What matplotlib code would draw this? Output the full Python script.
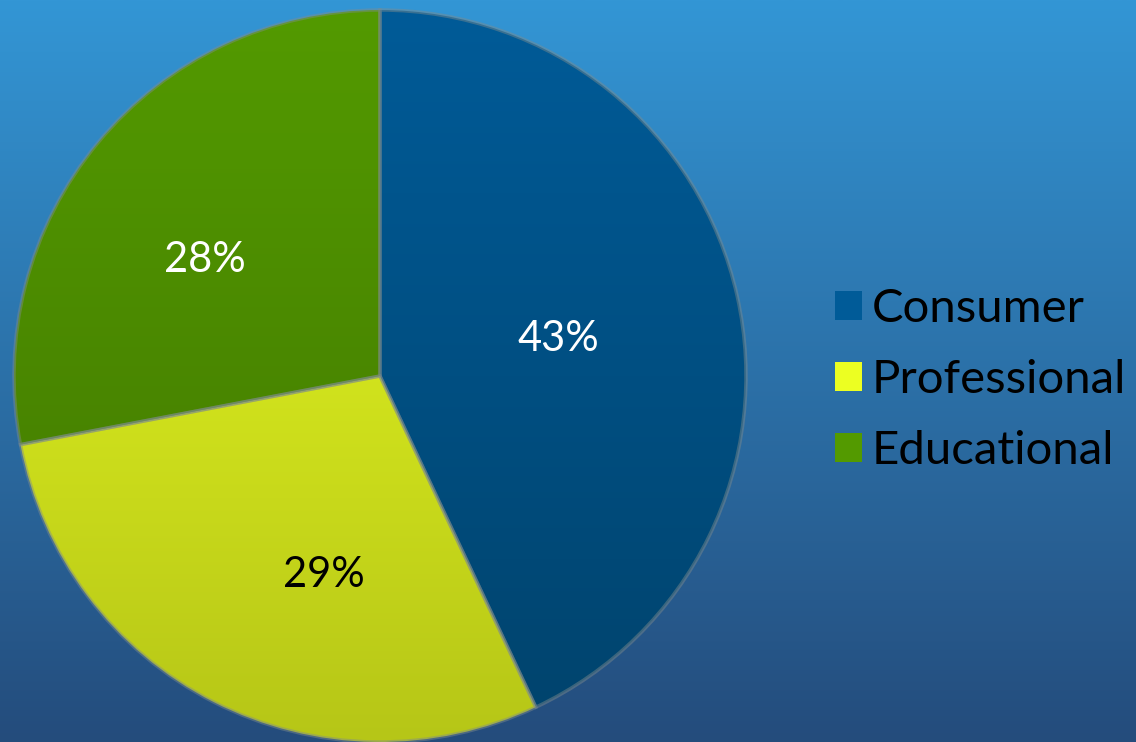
import numpy as np
import matplotlib
matplotlib.use("Agg")
import matplotlib.pyplot as plt
from matplotlib.colors import LinearSegmentedColormap
from matplotlib.patches import Patch

# datos del grafico
categorias = ["Consumer", "Professional", "Educational"]
valores = [43, 29, 28]
etiquetas = ["43%", "29%", "28%"]

# colores (arriba, abajo) de cada porcion
colores_arriba = ["#005b98", "#ecff22", "#539a00"]
colores_abajo = ["#00436c", "#b6c617", "#417500"]
colores_texto = ["white", "black", "white"]

plt.rcParams['font.family'] = ['Lato', 'DejaVu Sans']

fig = plt.figure(figsize=(11.36, 7.42), dpi=100)

# fondo degradado
fondo = fig.add_axes([0, 0, 1, 1])
fondo.set_axis_off()
grad = np.linspace(0, 1, 256).reshape(-1, 1)
cmap_fondo = LinearSegmentedColormap.from_list("fondo", ["#3396d5", "#244c7c"])
fondo.imshow(grad, aspect="auto", cmap=cmap_fondo, extent=(0, 1, 0, 1))
fondo.set_zorder(-1)

# torta
ax = fig.add_axes([14 / 1136, 0, 732 / 1136, 732 / 742])
wedges, textos = ax.pie(valores, startangle=90, counterclock=False,
                        labels=etiquetas, labeldistance=0.55)

ygrad = np.linspace(1, 0, 256).reshape(-1, 1)
for i, w in enumerate(wedges):
    cm = LinearSegmentedColormap.from_list("c%d" % i, [colores_abajo[i], colores_arriba[i]])
    im = ax.imshow(ygrad, extent=(-1, 1, -1, 1), cmap=cm, aspect="auto", zorder=2)
    im.set_clip_path(w)
    w.set_facecolor("none")
    w.set_edgecolor((0.5, 0.55, 0.55, 0.45))
    w.set_linewidth(2.5)
    w.set_zorder(3)

# pequeños ajustes de posicion de las etiquetas (en radios)
ajustes = [(-0.05, -0.018), (0.095, -0.055), (-0.055, -0.035)]
for i, t in enumerate(textos):
    x, y = t.get_position()
    t.set_position((x + ajustes[i][0], y + ajustes[i][1]))
    t.set_fontsize(30)
    t.set_color(colores_texto[i])
    t.set_ha("center")
    t.set_va("center")
    t.set_zorder(4)

ax.set_xlim(-1, 1)
ax.set_ylim(-1, 1)
ax.set_aspect("equal")
ax.set_axis_off()

# leyenda
handles = [Patch(facecolor=colores_arriba[i], edgecolor="none") for i in range(3)]
fig.legend(handles, categorias, loc="center left",
           bbox_to_anchor=(835 / 1136, (742 - 380) / 742),
           frameon=False, fontsize=34, borderpad=0, borderaxespad=0,
           handlelength=0.57, handleheight=0.57, handletextpad=0.2,
           labelspacing=0.62)

fig.savefig("out.png", dpi=100)
